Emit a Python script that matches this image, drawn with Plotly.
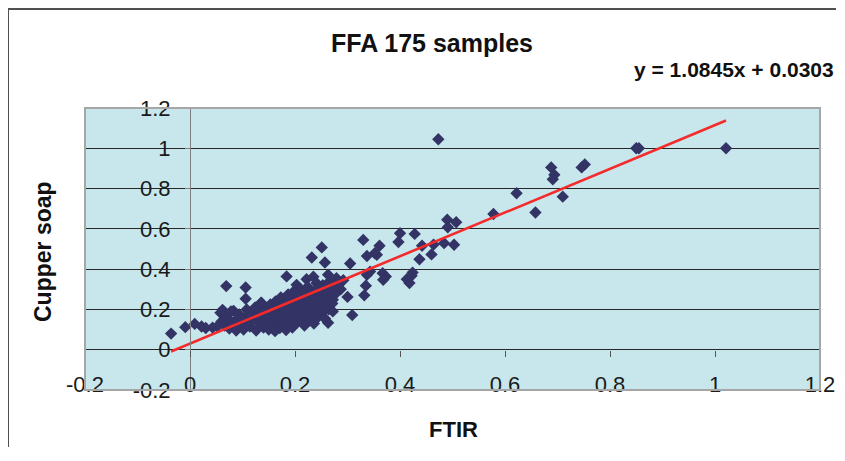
import plotly.graph_objects as go

# ---- data ----
ftir = [
    1.021, 0.850, 0.855, 0.473, 0.688, 0.694, 0.691, 0.746, 0.752, 0.710,
    0.622, 0.658, 0.578, 0.490, 0.507, 0.491, 0.400, 0.428, 0.397, 0.361,
    0.352, 0.356, 0.442, 0.464, 0.484, 0.503, 0.460, 0.437, 0.343, 0.367,
    0.373, 0.368, 0.413, 0.418, 0.424, 0.422, 0.330, 0.337, 0.251, 0.232,
    0.257, 0.305, 0.184, 0.222, 0.235, 0.263, 0.279, 0.337, 0.335, 0.332,
    0.300, 0.309, 0.263, 0.272, 0.257, 0.241, 0.283, 0.265, 0.272, -0.036,
    -0.009, 0.009, 0.022, 0.030, 0.043, 0.069, 0.106, 0.106, 0.062, 0.083,
    0.136, 0.183,
    0.052, 0.058, 0.060, 0.066, 0.070, 0.075, 0.078, 0.082, 0.088, 0.090,
    0.094, 0.098,
    0.102, 0.105, 0.108, 0.110, 0.114, 0.118, 0.120, 0.124, 0.126, 0.128,
    0.132, 0.135, 0.138, 0.140, 0.142, 0.145, 0.148, 0.150, 0.150,
    0.153, 0.155, 0.157, 0.160, 0.162, 0.163, 0.165, 0.168, 0.170, 0.171,
    0.173, 0.175, 0.177, 0.178, 0.180, 0.182, 0.184, 0.185, 0.187, 0.188,
    0.190, 0.192, 0.194, 0.195, 0.196, 0.198, 0.199,
    0.201, 0.203, 0.204, 0.205, 0.207, 0.208, 0.210, 0.211, 0.213, 0.214,
    0.216, 0.218, 0.219, 0.221, 0.222, 0.224, 0.225, 0.227, 0.229, 0.230,
    0.232, 0.234, 0.236, 0.238, 0.240, 0.241, 0.243, 0.245, 0.247, 0.249,
    0.251, 0.253, 0.255, 0.257, 0.260, 0.262, 0.264, 0.266, 0.268, 0.271,
    0.274, 0.278, 0.282, 0.287, 0.292,
]
cupper_soap = [
    1.000, 1.000, 1.000, 1.045, 0.905, 0.868, 0.846, 0.905, 0.920, 0.760,
    0.777, 0.681, 0.674, 0.645, 0.633, 0.608, 0.578, 0.575, 0.535, 0.516,
    0.479, 0.471, 0.516, 0.522, 0.529, 0.521, 0.473, 0.449, 0.388, 0.380,
    0.363, 0.347, 0.350, 0.331, 0.383, 0.367, 0.545, 0.465, 0.508, 0.458,
    0.433, 0.428, 0.364, 0.350, 0.362, 0.372, 0.355, 0.372, 0.318, 0.270,
    0.262, 0.172, 0.134, 0.190, 0.289, 0.331, 0.301, 0.306, 0.248, 0.080,
    0.112, 0.128, 0.115, 0.108, 0.110, 0.316, 0.309, 0.253, 0.198, 0.193,
    0.233, 0.098,
    0.115, 0.183, 0.140, 0.120, 0.160, 0.105, 0.190, 0.135, 0.095, 0.150,
    0.175, 0.120,
    0.100, 0.160, 0.200, 0.135, 0.115, 0.185, 0.150, 0.210, 0.095, 0.170,
    0.130, 0.232, 0.190, 0.110, 0.155, 0.205, 0.140, 0.100, 0.175,
    0.225, 0.125, 0.195, 0.150, 0.092, 0.240, 0.170, 0.210, 0.135, 0.108,
    0.260, 0.185, 0.155, 0.225, 0.120, 0.200, 0.245, 0.165, 0.275, 0.140,
    0.215, 0.185, 0.255, 0.110, 0.160, 0.290, 0.230,
    0.195, 0.322, 0.135, 0.265, 0.175, 0.215, 0.300, 0.150, 0.245, 0.190,
    0.280, 0.120, 0.225, 0.165, 0.260, 0.312, 0.200, 0.145, 0.240, 0.285,
    0.180, 0.215, 0.130, 0.265, 0.195, 0.300, 0.160, 0.235, 0.210, 0.275,
    0.185, 0.320, 0.250, 0.155, 0.225, 0.290, 0.200, 0.340, 0.262, 0.230,
    0.310, 0.280, 0.330, 0.300, 0.345,
]
slope = 1.0845
intercept = 0.0303
title_text = "FFA 175 samples"
equation_text = "y = 1.0845x + 0.0303"
x_title = "FTIR"
y_title = "Cupper soap"
tick_values = [-0.2, 0, 0.2, 0.4, 0.6, 0.8, 1, 1.2]
tick_labels = ["-0.2", "0", "0.2", "0.4", "0.6", "0.8", "1", "1.2"]

FONT = "Liberation Sans, Arial, sans-serif"

# figure pixel geometry (the page body adds an 8px offset)
W, H = 829, 440
L, R, T, B = 77, 17, 100, 58
PW, PH = W - L - R, H - T - B


def px(x):
    return (x - L) / PW


def py(y):
    return (H - B - y) / PH


x_lo, x_hi = min(ftir), max(ftir)
trend_x = [x_lo, x_hi]
trend_y = [slope * v + intercept for v in trend_x]

fig = go.Figure()
fig.add_trace(go.Scatter(
    x=ftir, y=cupper_soap, mode="markers",
    marker=dict(symbol="diamond", size=9.5, color="#333366", line=dict(width=0)),
    showlegend=False, hoverinfo="x+y",
))
fig.add_trace(go.Scatter(
    x=trend_x, y=trend_y, mode="lines",
    line=dict(color="#F52A2A", width=2.6),
    showlegend=False, hoverinfo="skip",
))
# helper traces so the overlay axes are drawn
fig.add_trace(go.Scatter(x=[None], y=[None], xaxis="x2", yaxis="y", showlegend=False, hoverinfo="skip"))
fig.add_trace(go.Scatter(x=[None], y=[None], xaxis="x3", yaxis="y", showlegend=False, hoverinfo="skip"))

rng = [-0.2, 1.2]
fig.update_layout(
    width=W, height=H,
    margin=dict(l=L, r=R, t=T, b=B, autoexpand=False),
    paper_bgcolor="white",
    plot_bgcolor="#C7E7EC",
    font=dict(family=FONT, color="#1a1a1a"),
    title=dict(text="<b>%s</b>" % title_text, x=424 / W, xanchor="center",
               y=1 - 35 / H, yanchor="middle", xref="container", yref="container",
               font=dict(size=25, family=FONT, color="#111111")),
    xaxis=dict(range=rng, showgrid=False, zeroline=False, showline=False,
               showticklabels=False, ticks=""),
    xaxis2=dict(range=rng, overlaying="x", anchor="free", position=21 / PH,
                tickmode="array", tickvals=tick_values, ticktext=tick_labels,
                showgrid=False, zeroline=False, showline=False, ticks="",
                tickfont=dict(size=22, family=FONT, color="#1a1a1a")),
    xaxis3=dict(range=rng, overlaying="x", anchor="free", position=1 / 7,
                tickmode="array", tickvals=[0, 0.2, 0.4, 0.6, 0.8, 1.0],
                showgrid=False, zeroline=False, showline=False,
                ticks="outside", ticklen=6, tickcolor="#555555", tickwidth=1,
                showticklabels=False),
    yaxis=dict(range=rng, anchor="free", position=1 / 7,
               tickmode="array", tickvals=tick_values, ticktext=tick_labels,
               showgrid=True, gridcolor="#262626", gridwidth=1,
               zeroline=False, showline=True, linecolor="#7f7f7f", linewidth=1,
               ticks="outside", ticklen=5, tickcolor="#7f7f7f",
               ticklabelstandoff=10,
               tickfont=dict(size=22, family=FONT, color="#1a1a1a")),
    shapes=[
        dict(type="rect", xref="paper", yref="paper", x0=0, x1=1, y0=0, y1=1,
             line=dict(color="#A6A6A6", width=2), fillcolor="rgba(0,0,0,0)", layer="above"),
        # outer chart frame: only its top and left edges fall inside the picture
        dict(type="line", xref="paper", yref="paper",
             x0=px(0), x1=px(W - 1), y0=py(1), y1=py(1),
             line=dict(color="#505050", width=2), layer="above"),
        dict(type="line", xref="paper", yref="paper",
             x0=px(0), x1=px(0), y0=py(1), y1=py(H - 1),
             line=dict(color="#505050", width=2), layer="above"),
    ],
    annotations=[
        dict(text="<b>%s</b>" % equation_text, xref="paper", yref="paper",
             x=px(624), xanchor="left", y=py(62), yanchor="middle",
             showarrow=False, font=dict(size=21, family=FONT, color="#111111")),
        dict(text="<b>%s</b>" % y_title, xref="paper", yref="paper",
             x=px(35), xanchor="center", y=py(244), yanchor="middle",
             textangle=-90, showarrow=False, font=dict(size=23, family=FONT, color="#111111")),
        dict(text="<b>%s</b>" % x_title, xref="paper", yref="paper",
             x=px(445), xanchor="center", y=py(421), yanchor="middle",
             showarrow=False, font=dict(size=22, family=FONT, color="#111111")),
    ],
)

fig.write_html("out.html", config={"displayModeBar": False})
